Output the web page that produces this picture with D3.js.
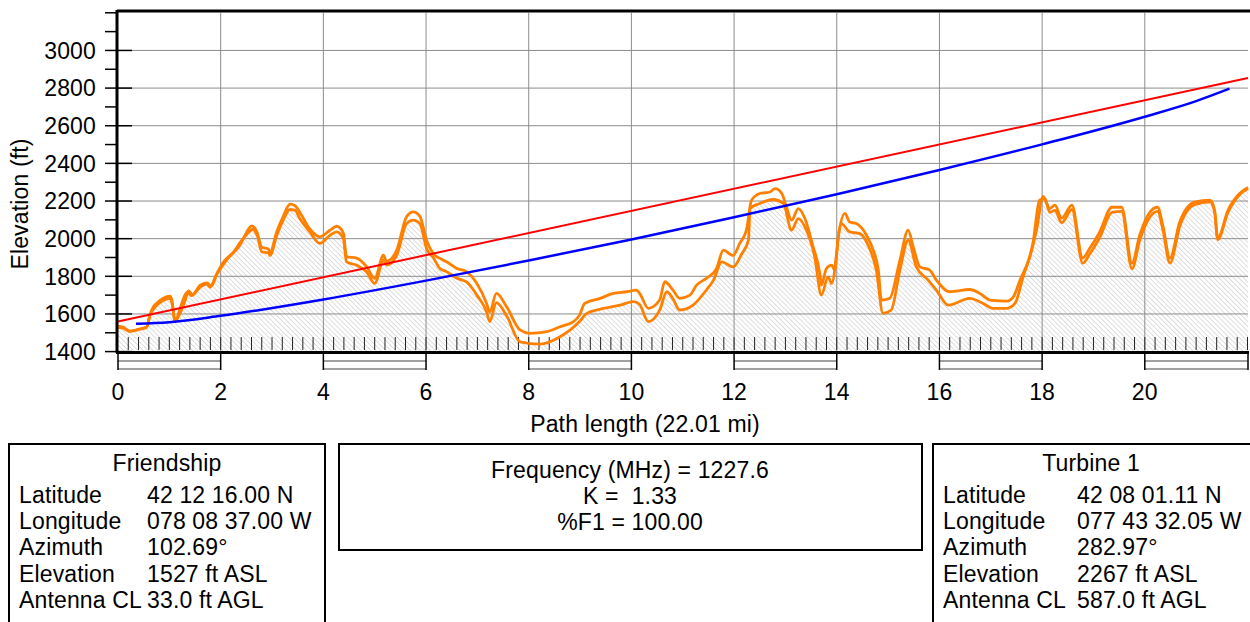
<!DOCTYPE html>
<html>
<head>
<meta charset="utf-8">
<script src="https://cdnjs.cloudflare.com/ajax/libs/d3/7.8.5/d3.min.js"></script>
<style>
body { margin: 0; background: #fff; }
svg text { font-family: "Liberation Sans", Arial, sans-serif; fill: #000; white-space: pre; letter-spacing: 0.15px; }
</style>
</head>
<body>
<div id="chart"></div>
<script>
// path length and axes
const pathLength = 22.01;
const yTicks = d3.range(1400, 3201, 100);
const yLabels = d3.range(1400, 3001, 200);
const xLabels = d3.range(0, 21, 2);

// terrain with clutter (upper orange line) [mi, ft]
const clutterTop = [
  [0.00,1535],[0.10,1530],[0.23,1509],[0.36,1516],[0.56,1530],[0.62,1594],[0.69,1638],[0.75,1656],
  [0.88,1683],[1.01,1695],[1.05,1674],[1.11,1562],[1.21,1605],[1.31,1674],[1.37,1723],[1.45,1703],
  [1.60,1753],[1.73,1765],[1.82,1748],[1.92,1808],[2.12,1888],[2.38,1968],[2.54,2050],[2.60,2068],
  [2.70,2040],[2.80,1955],[2.93,1945],[2.96,1925],[3.09,2035],[3.22,2120],[3.35,2183],[3.45,2175],
  [3.54,2140],[3.74,2050],[3.93,2010],[4.13,2045],[4.26,2066],[4.39,2030],[4.45,1905],[4.65,1897],
  [4.84,1852],[5.00,1789],[5.17,1912],[5.23,1880],[5.43,1940],[5.62,2116],[5.75,2142],[5.88,2118],
  [6.01,1992],[6.14,1921],[6.27,1895],[6.40,1877],[6.60,1842],[6.79,1824],[6.99,1762],[7.18,1656],
  [7.24,1610],[7.37,1709],[7.57,1638],[7.83,1515],[8.02,1497],[8.35,1506],[8.61,1532],[8.87,1559],
  [8.99,1594],[9.09,1656],[9.39,1683],[9.65,1709],[9.91,1718],[10.10,1727],[10.16,1709],[10.33,1630],
  [10.55,1674],[10.65,1771],[10.81,1727],[10.94,1683],[11.14,1700],[11.27,1753],[11.46,1789],[11.66,1842],
  [11.79,1939],[11.98,1910],[12.11,1975],[12.24,2045],[12.34,2204],[12.50,2240],[12.70,2248],[12.80,2266],
  [12.93,2240],[13.02,2169],[13.12,2098],[13.25,2160],[13.38,2107],[13.54,1956],[13.67,1815],[13.70,1753],
  [13.80,1842],[13.90,1859],[13.96,1833],[14.03,2010],[14.16,2134],[14.25,2089],[14.38,2080],[14.58,2018],
  [14.71,1939],[14.81,1833],[14.87,1674],[15.03,1683],[15.23,1886],[15.39,2045],[15.49,1956],[15.62,1850],
  [15.81,1833],[15.94,1780],[16.20,1718],[16.59,1730],[16.79,1709],[16.98,1674],[17.31,1668],[17.44,1691],
  [17.57,1780],[17.76,1903],[17.89,2045],[18.02,2225],[18.15,2160],[18.25,2178],[18.38,2109],[18.58,2178],
  [18.79,1897],[18.93,1950],[19.12,2035],[19.36,2167],[19.55,2167],[19.75,1870],[19.90,2018],[20.10,2141],
  [20.25,2167],[20.35,2072],[20.49,1897],[20.68,2088],[20.97,2194],[21.27,2204],[21.36,2151],[21.42,2002],
  [21.62,2151],[21.85,2241],[22.01,2272]
];

// bare ground (lower orange line, hatched below) [mi, ft]
const ground = [
  [0.00,1527],[0.10,1525],[0.23,1507],[0.36,1514],[0.49,1525],[0.56,1530],[0.62,1590],[0.75,1645],
  [0.88,1672],[1.01,1683],[1.05,1660],[1.11,1560],[1.21,1630],[1.34,1715],[1.43,1698],[1.60,1742],
  [1.73,1760],[1.79,1742],[1.92,1812],[2.05,1875],[2.25,1928],[2.38,1980],[2.57,2040],[2.62,2050],
  [2.72,2010],[2.80,1930],[2.93,1925],[2.96,1910],[3.09,2015],[3.22,2100],[3.35,2155],[3.45,2150],
  [3.54,2107],[3.74,2035],[3.93,1975],[4.13,2018],[4.26,2036],[4.39,2000],[4.45,1877],[4.65,1859],
  [4.84,1824],[5.00,1762],[5.17,1886],[5.23,1860],[5.43,1912],[5.62,2080],[5.75,2098],[5.88,2080],
  [6.01,1948],[6.14,1900],[6.27,1842],[6.40,1825],[6.60,1790],[6.79,1770],[6.99,1700],[7.18,1610],
  [7.24,1559],[7.37,1660],[7.57,1590],[7.83,1452],[8.22,1440],[8.61,1479],[8.99,1560],[9.13,1603],
  [9.39,1625],[9.78,1647],[10.04,1665],[10.16,1650],[10.33,1559],[10.55,1620],[10.69,1718],[10.81,1680],
  [10.94,1621],[11.20,1647],[11.46,1727],[11.60,1780],[11.76,1877],[11.98,1850],[12.15,1920],[12.28,1992],
  [12.31,2160],[12.50,2187],[12.76,2208],[12.96,2187],[13.12,2045],[13.25,2107],[13.41,2045],[13.57,1903],
  [13.70,1700],[13.83,1797],[13.90,1762],[14.09,2080],[14.25,2036],[14.45,2027],[14.61,1966],[14.77,1833],
  [14.90,1603],[15.06,1621],[15.23,1833],[15.39,1992],[15.55,1850],[15.78,1780],[15.94,1727],[16.17,1647],
  [16.59,1683],[16.85,1656],[17.04,1630],[17.31,1630],[17.47,1656],[17.63,1797],[17.82,1975],[17.95,2204],
  [18.05,2213],[18.15,2140],[18.25,2150],[18.38,2085],[18.58,2155],[18.79,1870],[18.93,1920],[19.12,2005],
  [19.36,2140],[19.55,2145],[19.75,1840],[19.90,1990],[20.10,2115],[20.25,2145],[20.35,2050],[20.49,1870],
  [20.68,2065],[20.97,2180],[21.27,2195],[21.36,2140],[21.42,1995],[21.62,2140],[21.85,2235],[22.01,2267]
];

// line of sight (red) and fresnel zone lower edge (blue)
const lineOfSight = [[0, 1560], [22.01, 2854]];
const fresnelLower = [
  [0.35,1548],[1,1556],[2,1590],[4,1677],[6,1777],[8,1884],[10,1996],[12,2114],
  [14,2236],[16,2365],[18,2501],[20,2648],[21,2731],[21.65,2797]
];

// site info
const siteLabels = ["Latitude", "Longitude", "Azimuth", "Elevation", "Antenna CL"];
const siteA = { name: "Friendship", values: ["42 12 16.00 N", "078 08 37.00 W", "102.69°", "1527 ft ASL", "33.0 ft AGL"] };
const siteB = { name: "Turbine 1", values: ["42 08 01.11 N", "077 43 32.05 W", "282.97°", "2267 ft ASL", "587.0 ft AGL"] };
const linkInfo = ["Frequency (MHz) = 1227.6", "K =  1.33", "%F1 = 100.00"];

const W = 1250, H = 622;
const FS = 23;
const svg = d3.select("#chart").append("svg").attr("width", W).attr("height", H);

const x = d3.scaleLinear().domain([0, pathLength]).range([118, 1248]);
const y = d3.scaleLinear().domain([1400, 3200]).range([351.6, 12.8]);

// hatch pattern for ground
const defs = svg.append("defs");
const pat = defs.append("pattern")
	.attr("id", "hatch")
	.attr("patternUnits", "userSpaceOnUse")
	.attr("width", 3.5).attr("height", 3.5)
	.attr("patternTransform", "rotate(-45)");
pat.append("rect").attr("width", 3.5).attr("height", 3.5).attr("fill", "#fff");
pat.append("line").attr("x1", 0).attr("y1", 0).attr("x2", 0).attr("y2", 3.5)
	.attr("stroke", "#bdbdbd").attr("stroke-width", 1);

// grid
const grid = svg.append("g").attr("class", "grid");
grid.selectAll("line.h")
	.data(yLabels.filter(d => d > 1400))
	.enter().append("line")
	.attr("x1", x(0)).attr("x2", x(pathLength))
	.attr("y1", d => y(d)).attr("y2", d => y(d))
	.attr("stroke", "#8c8c8c").attr("stroke-width", 1);

// hatched ground area
const area = d3.area()
	.curve(d3.curveMonotoneX)
	.x(d => x(d[0]))
	.y0(y(1400))
	.y1(d => y(d[1]));
svg.append("path").datum(ground)
	.attr("d", area)
	.attr("fill", "url(#hatch)");

grid.raise();
grid.selectAll("line.v")
	.data(d3.range(2, 22, 2))
	.enter().append("line")
	.attr("x1", d => x(d)).attr("x2", d => x(d))
	.attr("y1", y(3200)).attr("y2", y(1400))
	.attr("stroke", "#8c8c8c").attr("stroke-width", 1);

// distance ticks along bottom
svg.append("g").selectAll("line")
	.data(d3.range(1, 111).map(i => i * 0.2))
	.enter().append("line")
	.attr("x1", d => x(d)).attr("x2", d => x(d))
	.attr("y1", 337).attr("y2", 350)
	.attr("stroke", "#222").attr("stroke-width", 1);

// profile lines
const line = d3.line().curve(d3.curveMonotoneX).x(d => x(d[0])).y(d => y(d[1]));
svg.append("path").datum(clutterTop)
	.attr("d", line).attr("fill", "none")
	.attr("stroke", "#ff8000").attr("stroke-width", 2.8).attr("stroke-linejoin", "round");
svg.append("path").datum(ground)
	.attr("d", line).attr("fill", "none")
	.attr("stroke", "#ff8000").attr("stroke-width", 2.8).attr("stroke-linejoin", "round");

svg.append("path").datum(lineOfSight)
	.attr("d", d3.line().x(d => x(d[0])).y(d => y(d[1])))
	.attr("fill", "none")
	.attr("stroke", "#ff0000").attr("stroke-width", 2);
svg.append("path").datum(fresnelLower)
	.attr("d", line)
	.attr("fill", "none")
	.attr("stroke", "#0000ff").attr("stroke-width", 2.5);

// y axis
const yAxis = svg.append("g");
yAxis.selectAll("line")
	.data(yTicks)
	.enter().append("line")
	.attr("x1", 105)
	.attr("x2", d => (d % 200 === 0 && d < 3200) ? 132 : 118)
	.attr("y1", d => y(d)).attr("y2", d => y(d))
	.attr("stroke", "#000").attr("stroke-width", 1.5);
yAxis.selectAll("text")
	.data(yLabels)
	.enter().append("text")
	.attr("x", 96).attr("y", d => y(d))
	.attr("dy", "0.36em")
	.attr("text-anchor", "end")
	.attr("font-size", FS)
	.text(d => d);
svg.append("text")
	.attr("transform", "translate(28,204) rotate(-90)")
	.attr("text-anchor", "middle")
	.attr("font-size", FS)
	.text("Elevation (ft)");

// frame
svg.append("line").attr("x1", 117).attr("x2", 1250).attr("y1", 11).attr("y2", 11)
	.attr("stroke", "#000").attr("stroke-width", 3);
svg.append("line").attr("x1", 117).attr("x2", 117).attr("y1", 10).attr("y2", 353)
	.attr("stroke", "#000").attr("stroke-width", 3);

// scale bar under the axis
const bar = svg.append("g");
const segs = d3.range(0, 22, 2);
bar.selectAll("g")
	.data(segs.filter((d, i) => i % 2 === 0))
	.enter().append("g")
	.each(function (d) {
		const g = d3.select(this);
		const x2 = x(Math.min(d + 2, pathLength));
		[361, 369].forEach(yy => g.append("line")
			.attr("x1", x(d)).attr("x2", x2).attr("y1", yy).attr("y2", yy)
			.attr("stroke", "#444").attr("stroke-width", 1.2));
	});
bar.selectAll("line.div")
	.data(segs.concat([pathLength]))
	.enter().append("line")
	.attr("x1", d => x(d)).attr("x2", d => x(d))
	.attr("y1", 352).attr("y2", 370)
	.attr("stroke", "#000").attr("stroke-width", 1.5);

svg.append("line").attr("x1", 116).attr("x2", 1249).attr("y1", 352.5).attr("y2", 352.5)
	.attr("stroke", "#000").attr("stroke-width", 3);

// x labels
svg.append("g").selectAll("text")
	.data(xLabels)
	.enter().append("text")
	.attr("x", d => x(d)).attr("y", 400)
	.attr("text-anchor", "middle")
	.attr("font-size", FS)
	.text(d => d);
svg.append("text")
	.attr("x", 645).attr("y", 432)
	.attr("text-anchor", "middle")
	.attr("font-size", FS)
	.text("Path length (" + pathLength.toFixed(2) + " mi)");

// info boxes
function siteBox(site, bx, bw, valX) {
	const g = svg.append("g");
	g.append("rect").attr("x", bx).attr("y", 444).attr("width", bw).attr("height", 200)
		.attr("fill", "none").attr("stroke", "#000").attr("stroke-width", 2);
	g.append("text").attr("x", bx + 158).attr("y", 471).attr("text-anchor", "middle")
		.attr("font-size", FS).text(site.name);
	g.selectAll("text.l").data(siteLabels).enter().append("text")
		.attr("x", bx + 10).attr("y", (d, i) => 503 + i * 26.2)
		.attr("font-size", FS).text(d => d);
	g.selectAll("text.v").data(site.values).enter().append("text")
		.attr("x", bx + valX).attr("y", (d, i) => 503 + i * 26.2)
		.attr("font-size", FS).text(d => d);
}
siteBox(siteA, 9, 316, 138);
siteBox(siteB, 933, 330, 144);

const mid = svg.append("g");
mid.append("rect").attr("x", 339).attr("y", 444).attr("width", 583).attr("height", 106)
	.attr("fill", "none").attr("stroke", "#000").attr("stroke-width", 2);
mid.selectAll("text").data(linkInfo).enter().append("text")
	.attr("x", 630).attr("y", (d, i) => 478 + i * 26)
	.attr("text-anchor", "middle")
	.attr("font-size", FS)
	.text(d => d);
</script>
</body>
</html>
